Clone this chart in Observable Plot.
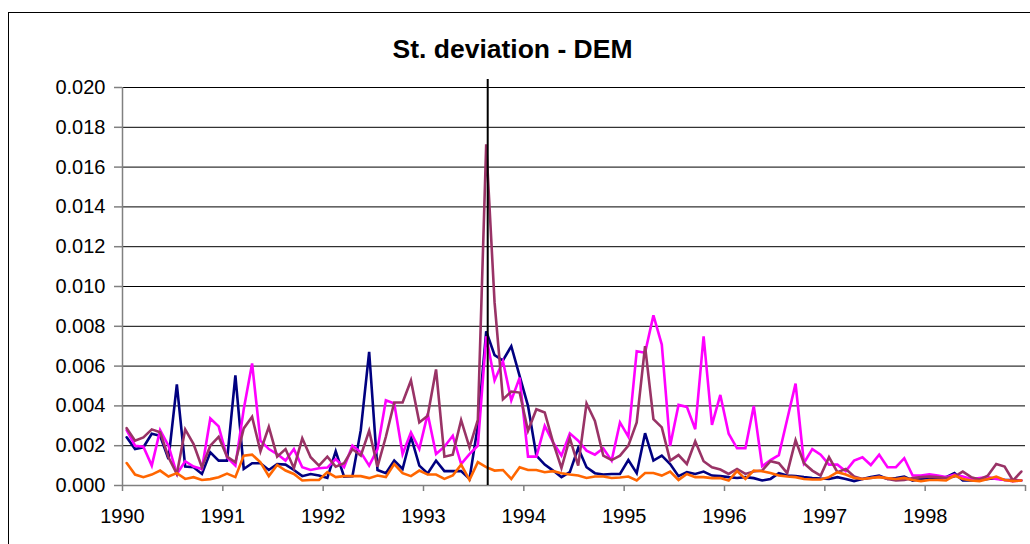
<!DOCTYPE html>
<html><head><meta charset="utf-8">
<script src="https://cdn.jsdelivr.net/npm/d3@7"></script>
<script src="https://cdn.jsdelivr.net/npm/@observablehq/plot@0.6"></script>
<style>
body{margin:0;background:#fff;}
#wrap{position:relative;width:1030px;height:544px;overflow:hidden;background:#fff;}
#border{position:absolute;left:8px;top:12px;width:1100px;height:600px;border:1.5px solid #000;box-sizing:border-box;pointer-events:none;}
#wrap svg{position:absolute;left:0;top:0;}
</style></head>
<body><div id="wrap"><div id="border"></div></div>
<script>
const titleText = "St. deviation - DEM";
const startYear = 1990;
const xTickYears = [1990,1991,1992,1993,1994,1995,1996,1997,1998,1999];
const xTickLabels = ["1990","1991","1992","1993","1994","1995","1996","1997","1998",""];
const yTicks = [0,0.002,0.004,0.006,0.008,0.010,0.012,0.014,0.016,0.018,0.020];
const eventDate = 1993.64;

const navy = [0.00242,0.00183,0.00192,0.0026,0.0025,0.00133,0.00508,0.00095,0.00092,0.00058,0.00167,0.00125,
0.00125,0.00553,0.00083,0.00112,0.00112,0.00078,0.00108,0.00105,0.00078,0.00047,0.00058,0.0005,
0.00038,0.00172,0.00045,0.00047,0.00278,0.00672,0.00078,0.00062,0.00125,0.00083,0.00245,0.001,
0.0006,0.00125,0.00072,0.00072,0.00072,0.00033,0.003,0.00775,0.00655,0.00628,0.007,0.0055,
0.004,0.0015,0.00105,0.00075,0.00042,0.00067,0.00188,0.00092,0.00062,0.00055,0.00058,0.00058,
0.00128,0.00062,0.00263,0.00125,0.0015,0.00108,0.00047,0.00067,0.00058,0.0007,0.0005,0.00047,
0.00042,0.00038,0.00042,0.00037,0.00025,0.00033,0.00062,0.0005,0.00047,0.00042,0.00038,0.00035,
0.00033,0.00042,0.00033,0.00022,0.00033,0.00042,0.0005,0.00033,0.00038,0.00045,0.00025,0.00033,
0.00038,0.00033,0.00042,0.00062,0.00025,0.00025,0.00028,0.00033,0.00037,0.00028,0.00028,0.00025];

const magenta = [0.00278,0.002,0.00195,0.001,0.00278,0.002,0.00058,0.00122,0.00095,0.00083,0.00337,0.00297,
0.00142,0.001,0.00383,0.00613,0.00225,0.00183,0.00158,0.00125,0.00183,0.00092,0.00078,0.00087,
0.0009,0.00133,0.00092,0.002,0.00167,0.001,0.00183,0.00428,0.00412,0.00158,0.00267,0.00183,
0.0036,0.00158,0.00195,0.0025,0.00108,0.00158,0.002,0.0075,0.00528,0.00625,0.00428,0.00542,
0.00145,0.00145,0.003,0.00217,0.0015,0.00262,0.00225,0.00175,0.00155,0.00187,0.00125,0.00317,
0.00245,0.00675,0.00667,0.00855,0.00708,0.002,0.00405,0.00395,0.00283,0.0075,0.00305,0.00455,
0.0026,0.00187,0.00187,0.004,0.00097,0.00128,0.00153,0.00333,0.00512,0.00113,0.00183,0.00155,
0.00105,0.00105,0.00072,0.00125,0.00142,0.00103,0.00155,0.00092,0.00092,0.00137,0.0005,0.0005,
0.00056,0.0005,0.00042,0.00055,0.00045,0.00033,0.00038,0.00042,0.00033,0.00028,0.00022,0.00025];

const maroon = [0.00288,0.00225,0.00242,0.00282,0.00267,0.00142,0.00058,0.00282,0.00208,0.00092,0.002,0.00245,
0.00145,0.00117,0.00287,0.00345,0.00172,0.00295,0.00145,0.00183,0.00087,0.00237,0.00142,0.001,
0.00145,0.00095,0.00112,0.00183,0.0015,0.00275,0.00095,0.00245,0.00417,0.00417,0.00528,0.00317,
0.0035,0.00583,0.00145,0.00155,0.00328,0.00192,0.0033,0.01715,0.0092,0.00433,0.00472,0.00467,
0.00275,0.00383,0.00367,0.00217,0.00088,0.00238,0.001,0.00412,0.00325,0.0015,0.00128,0.0015,
0.002,0.00317,0.007,0.00333,0.00292,0.00125,0.00153,0.00108,0.00222,0.00122,0.00092,0.0008,
0.00058,0.00083,0.00058,0.0007,0.00075,0.00122,0.00112,0.00062,0.00228,0.00112,0.00075,0.0005,
0.00142,0.00067,0.00083,0.00045,0.00033,0.00038,0.00045,0.00033,0.00025,0.00028,0.00037,0.00042,
0.00045,0.00042,0.00037,0.00045,0.0007,0.00042,0.0003,0.0005,0.00108,0.00095,0.00025,0.0007];

const orange = [0.00113,0.00055,0.00042,0.00055,0.00075,0.00045,0.00062,0.00033,0.00042,0.00028,0.00032,0.00042,
0.0006,0.00042,0.0015,0.00155,0.00117,0.00047,0.00103,0.00075,0.00058,0.00025,0.00028,0.00028,
0.00067,0.00042,0.00047,0.00047,0.00047,0.00037,0.0005,0.00042,0.00108,0.00062,0.00047,0.00075,
0.00055,0.00055,0.00033,0.0005,0.00105,0.00028,0.00117,0.00092,0.00075,0.00078,0.00033,0.00092,
0.00078,0.00078,0.00067,0.00072,0.00062,0.00055,0.0005,0.00038,0.00045,0.00045,0.00038,0.0004,
0.00045,0.00025,0.00063,0.00063,0.0005,0.0007,0.00028,0.00058,0.00042,0.00042,0.00037,0.00038,
0.00025,0.00072,0.00033,0.00075,0.00072,0.00063,0.0005,0.00045,0.00042,0.00033,0.0003,0.0003,
0.00042,0.00067,0.00055,0.00038,0.00033,0.00038,0.00042,0.00037,0.00033,0.00038,0.00028,0.00022,
0.00028,0.00028,0.00025,0.0005,0.00033,0.00025,0.00022,0.00033,0.00045,0.00028,0.00022,0.00025];

const seriesList = [
  {values: navy, color: "#000080"},
  {values: magenta, color: "#FF00FF"},
  {values: maroon, color: "#993366"},
  {values: orange, color: "#FF6600"}
];
const monthX = (i) => startYear + (i + 0.5) / 12;

const chart = Plot.plot({
  width: 1030, height: 544,
  marginLeft: 122, marginRight: 5, marginTop: 87, marginBottom: 59,
  style: {fontFamily: "'Liberation Sans', Arial, sans-serif", fontSize: "20px", background: "transparent", color: "#000", overflow: "visible"},
  x: {domain: [1990, 1999]},
  y: {domain: [0, 0.020]},
  marks: [
    Plot.gridY(yTicks, {stroke: "#000", strokeOpacity: 1, strokeWidth: 1}),
    Plot.axisY(yTicks, {tickSize: 8, tickPadding: 9, tickFormat: d3.format(".3f"), label: null, stroke: "#808080", strokeWidth: 1.5}),
    Plot.axisX(xTickYears, {tickSize: 6, tickPadding: 17, tickFormat: (d) => xTickLabels[xTickYears.indexOf(d)], label: null, stroke: "#808080", strokeWidth: 1.5}),
    Plot.ruleX([1990], {stroke: "#808080", strokeWidth: 1.5}),
    Plot.ruleY([0], {stroke: "#808080", strokeWidth: 1.5}),
    ...seriesList.map(s => Plot.line(s.values, {x: (d, i) => monthX(i), y: d => d, stroke: s.color, strokeWidth: 2.6, strokeLinejoin: "miter", strokeMiterlimit: 4})),
    Plot.ruleX([eventDate], {y1: 0, y2: 0.0204, stroke: "#000", strokeWidth: 2}),
    Plot.text([titleText], {frameAnchor: "top-left", dx: 390, dy: -30, lineAnchor: "bottom", textAnchor: "middle", fontWeight: "bold", fontSize: 26.5, fill: "#000"})
  ]
});
document.getElementById("wrap").appendChild(chart);
</script>
</body></html>
